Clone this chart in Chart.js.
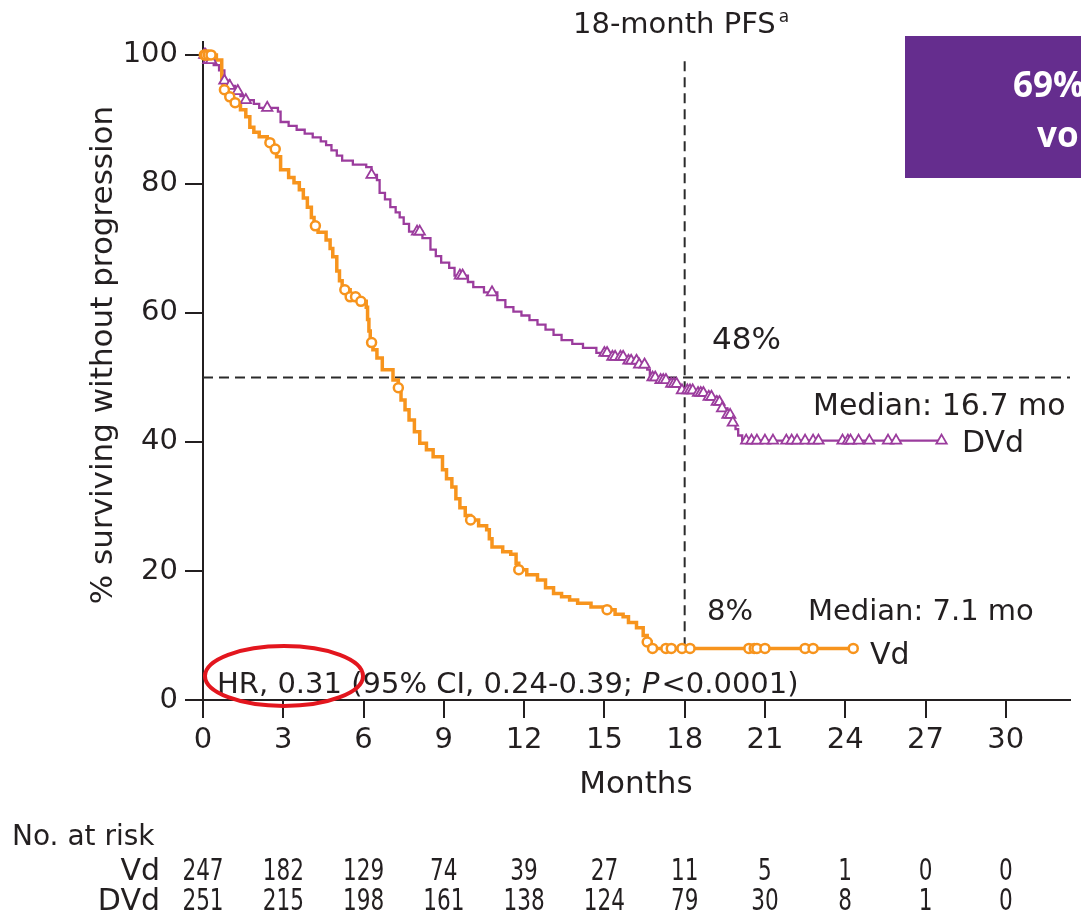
<!DOCTYPE html>
<html>
<head>
<meta charset="utf-8">
<title>PFS DVd vs Vd</title>
<script src="https://cdn.jsdelivr.net/npm/chart.js@4.4.0/dist/chart.umd.min.js"></script>
<style>
  html, body { margin: 0; padding: 0; background: #fff; }
  canvas { display: block; }
</style>
</head>
<body>
<canvas id="pfsChart" width="1081" height="916"></canvas>
<script>
// x axis ticks (months) and y axis ticks (%)
const months = [0, 3, 6, 9, 12, 15, 18, 21, 24, 27, 30];
const pctTicks = [0, 20, 40, 60, 80, 100];

// Kaplan-Meier steps: [month, % progression-free after the event]
const dvdSteps = [
  [0, 100], [0.2, 99.2], [0.4, 98.4], [0.6, 97.6], [0.8, 96.0], [1.0, 95.2], [1.2, 94.4],
  [1.4, 93.6], [1.6, 93.0], [1.9, 92.4], [2.1, 91.8], [2.8, 91.2], [2.9, 89.6], [3.2, 89.0],
  [3.5, 88.4], [3.8, 87.8], [4.1, 87.2], [4.4, 86.6], [4.6, 86.0], [4.8, 85.2], [5.0, 84.4],
  [5.2, 83.6], [5.6, 83.0], [6.1, 82.6], [6.3, 81.4], [6.5, 80.6], [6.6, 78.6], [6.8, 77.6],
  [7.0, 76.4], [7.2, 75.6], [7.35, 74.8], [7.5, 73.8], [7.7, 72.6], [8.2, 71.6], [8.5, 69.8],
  [8.7, 68.8], [8.9, 67.8], [9.2, 67.0], [9.4, 65.8], [9.9, 64.8], [10.1, 64.0], [10.5, 63.2],
  [11.0, 62.0], [11.3, 60.9], [11.6, 60.2], [11.9, 59.6], [12.2, 58.9], [12.5, 58.2],
  [12.8, 57.4], [13.1, 56.6], [13.4, 55.8], [13.8, 55.2], [14.2, 54.6], [14.7, 53.8],
  [15.2, 53.2], [15.8, 52.6], [16.3, 52.0], [16.6, 51.2], [16.7, 50.0], [17.0, 49.6],
  [17.4, 49.0], [17.8, 48.0], [18.5, 47.6], [18.9, 47.0], [19.2, 46.2], [19.4, 45.2],
  [19.6, 44.2], [19.8, 43.0], [19.9, 42.0], [20.0, 41.0], [20.15, 40.2], [27.6, 40.2]
];
const vdSteps = [
  [0, 100], [0.5, 99.2], [0.7, 96.4], [0.75, 94.6], [0.9, 93.5], [1.1, 92.6], [1.4, 91.5],
  [1.6, 90.4], [1.75, 88.8], [1.9, 88.0], [2.1, 87.3], [2.4, 86.4], [2.6, 85.4], [2.75, 84.2],
  [2.9, 82.2], [3.2, 81.0], [3.4, 80.2], [3.6, 79.1], [3.75, 77.8], [3.9, 76.4], [4.05, 74.8],
  [4.15, 73.5], [4.3, 72.5], [4.6, 71.3], [4.75, 70.0], [4.85, 68.7], [5.0, 66.5], [5.1, 65.0],
  [5.2, 63.6], [5.5, 62.5], [5.8, 61.8], [6.1, 60.9], [6.15, 59.0], [6.2, 57.2], [6.25, 55.4],
  [6.35, 54.3], [6.5, 53.0], [6.7, 51.2], [7.1, 49.6], [7.3, 48.4], [7.4, 46.5], [7.55, 45.0],
  [7.7, 43.4], [7.9, 41.6], [8.1, 39.8], [8.35, 38.8], [8.6, 37.7], [8.95, 35.7], [9.1, 34.3],
  [9.3, 33.0], [9.45, 31.2], [9.6, 29.8], [9.8, 28.6], [10.0, 27.9], [10.3, 27.0], [10.6, 26.4],
  [10.7, 25.0], [10.8, 23.7], [11.2, 23.0], [11.5, 22.6], [11.7, 21.2], [11.8, 20.2],
  [12.1, 19.4], [12.5, 18.6], [12.8, 17.4], [13.1, 16.5], [13.4, 16.0], [13.7, 15.5],
  [14.0, 15.0], [14.5, 14.4], [15.0, 14.0], [15.4, 13.3], [15.7, 12.9], [15.9, 12.0],
  [16.2, 11.2], [16.45, 10.0], [16.6, 9.0], [16.75, 8.0], [24.3, 8.0]
];

// censored observations (months)
const dvdCensored = [0.05, 0.1, 0.2, 0.3, 0.8, 1.0, 1.3, 1.6, 2.4, 6.3, 8.0, 8.1, 9.6, 9.7, 10.8,
  15.0, 15.1, 15.3, 15.4, 15.6, 15.7, 15.9, 16.0, 16.2, 16.3, 16.5, 16.8, 16.9, 17.1, 17.2, 17.3,
  17.5, 17.6, 17.7, 17.9, 18.1, 18.2, 18.3, 18.5, 18.6, 18.7, 18.9, 19.0, 19.2, 19.3, 19.4, 19.6,
  19.7, 19.8, 20.3, 20.5, 20.7, 21.0, 21.3, 21.8, 22.0, 22.2, 22.5, 22.8, 23.0, 23.9, 24.1, 24.2,
  24.5, 24.9, 25.6, 25.9, 27.6];
const vdCensored = [0.05, 0.1, 0.2, 0.3, 0.8, 1.0, 1.2, 2.5, 2.7, 4.2, 5.3, 5.5, 5.7, 5.9, 6.3,
  7.3, 10.0, 11.8, 15.1, 16.6, 16.8, 17.3, 17.5, 17.9, 18.2, 20.4, 20.6, 20.7, 21.0, 22.5, 22.8,
  24.3];

// number at risk at each x tick
const riskVd = [247, 182, 129, 74, 39, 27, 11, 5, 1, 0, 0];
const riskDVd = [251, 215, 198, 161, 138, 124, 79, 30, 8, 1, 0];

// reference lines
const medianPct = 50;
const landmarkMonth = 18;
const landmarkTop = 99;
const landmarkVd = 8;
const xMax = 32.4;

const ink = '#231f20';
const orange = '#f7941d';
const purple = '#9b3c9d';
const face = '"DejaVu Sans"';

function survAt(steps, t) {
  let s = steps[0][1];
  for (const [time, val] of steps) {
    if (time <= t) s = val; else break;
  }
  return s;
}
const toXY = steps => steps.map(([x, y]) => ({ x, y }));
const censorPoints = (times, steps) => times.map(t => ({ x: t, y: survAt(steps, t) }));

const overlay = {
  id: 'overlay',
  afterDraw(chart) {
    const ctx = chart.ctx;
    const xs = chart.scales.x;
    ctx.save();
    ctx.fillStyle = ink;
    ctx.textAlign = 'left';
    ctx.textBaseline = 'alphabetic';

    // landmark header
    ctx.font = `29px ${face}`;
    ctx.fillText('18-month PFS', 573, 33);
    const w = ctx.measureText('18-month PFS').width;
    ctx.font = `17px ${face}`;
    ctx.fillText('a', 573 + w + 3, 22);

    ctx.font = `31px ${face}`;
    ctx.fillText('48%', 712, 349);
    ctx.font = `30px ${face}`;
    ctx.fillText('Median: 16.7 mo', 813, 415);
    ctx.fillText('DVd', 962, 452);
    ctx.font = `29px ${face}`;
    ctx.fillText('8%', 707, 620);
    ctx.fillText('Median: 7.1 mo', 808, 620);
    ctx.font = `30px ${face}`;
    ctx.fillText('Vd', 870, 664);

    // hazard ratio line, P in italics
    let hx = 217;
    const hy = 693;
    ctx.font = `29px ${face}`;
    const part1 = 'HR, 0.31 (95% CI, 0.24-0.39; ';
    ctx.fillText(part1, hx, hy);
    hx += ctx.measureText(part1).width;
    ctx.font = `italic 29px ${face}`;
    ctx.fillText('P', hx, hy);
    hx += ctx.measureText('P').width + 2;
    ctx.font = `29px ${face}`;
    ctx.fillText('<0.0001)', hx, hy);

    // highlight around the HR
    ctx.beginPath();
    ctx.ellipse(284, 676, 79, 30, 0, 0, Math.PI * 2);
    ctx.strokeStyle = '#e3161e';
    ctx.lineWidth = 4;
    ctx.stroke();

    // axis titles
    ctx.font = `31px ${face}`;
    ctx.textAlign = 'center';
    ctx.fillText('Months', 636, 793);
    ctx.save();
    ctx.translate(112, 355);
    ctx.rotate(-Math.PI / 2);
    ctx.fillText('% surviving without progression', 0, 0);
    ctx.restore();

    // number at risk table
    ctx.textAlign = 'left';
    ctx.font = `28px ${face}`;
    ctx.fillText('No. at risk', 12, 845);
    ctx.textAlign = 'right';
    ctx.font = `30px ${face}`;
    ctx.fillText('Vd', 160, 880);
    ctx.fillText('DVd', 160, 910);
    const rows = [[riskVd, 880], [riskDVd, 910]];
    ctx.textAlign = 'center';
    for (const [vals, by] of rows) {
      vals.forEach((v, i) => {
        const px = xs.getPixelForValue(months[i]);
        ctx.save();
        ctx.translate(px, by);
        ctx.scale(0.72, 1);
        ctx.fillText(String(v), 0, 0);
        ctx.restore();
      });
    }

    // callout box
    ctx.fillStyle = '#652d8e';
    ctx.fillRect(905, 36, 200, 142);
    ctx.fillStyle = '#ffffff';
    ctx.textAlign = 'left';
    ctx.font = `bold 35px "Open Sans"`;
    ctx.fillText('69%', 1013, 97);
    ctx.fillText('vo', 1037, 147);
    ctx.restore();
  }
};

const axisLook = {
  grid: { drawOnChartArea: false, drawTicks: true, tickLength: 18, lineWidth: 2, tickWidth: 2, tickColor: ink },
  border: { color: ink, width: 2 }
};

new Chart(document.getElementById('pfsChart'), {
  type: 'line',
  data: {
    datasets: [
      {
        label: 'median',
        data: [{ x: 0, y: medianPct }, { x: xMax, y: medianPct }],
        borderColor: '#2b2b2b', borderWidth: 2, borderDash: [10, 6],
        pointRadius: 0, order: 10
      },
      {
        label: 'landmark',
        data: [{ x: landmarkMonth, y: landmarkTop }, { x: landmarkMonth, y: landmarkVd }],
        borderColor: '#2b2b2b', borderWidth: 2, borderDash: [10, 6],
        pointRadius: 0, order: 10
      },
      {
        label: 'DVd',
        data: toXY(dvdSteps),
        stepped: true,
        borderColor: purple, borderWidth: 2.3,
        pointRadius: 0, order: 5
      },
      {
        label: 'Vd',
        data: toXY(vdSteps),
        stepped: true,
        borderColor: orange, borderWidth: 3.5,
        pointRadius: 0, order: 4
      },
      {
        label: 'DVd censored',
        data: censorPoints(dvdCensored, dvdSteps),
        showLine: false,
        pointStyle: 'triangle', pointRadius: 6,
        pointBorderColor: purple, pointBackgroundColor: '#fff', pointBorderWidth: 1.8,
        order: 2
      },
      {
        label: 'Vd censored',
        data: censorPoints(vdCensored, vdSteps),
        showLine: false,
        pointStyle: 'circle', pointRadius: 4.5,
        pointBorderColor: orange, pointBackgroundColor: '#fff', pointBorderWidth: 2.5,
        order: 1
      }
    ]
  },
  options: {
    responsive: false,
    animation: false,
    clip: false,
    layout: { padding: { top: 42, right: 11, left: 0, bottom: 0 } },
    plugins: { legend: { display: false }, tooltip: { enabled: false } },
    scales: {
      x: {
        type: 'linear', min: 0, max: xMax,
        ...axisLook,
        afterBuildTicks: s => { s.ticks = months.map(v => ({ value: v })); },
        afterFit: s => { s.height = 216; },
        ticks: { color: ink, font: { family: 'DejaVu Sans', size: 29 }, padding: 5, maxRotation: 0, autoSkip: false }
      },
      y: {
        type: 'linear', min: 0, max: 102,
        ...axisLook,
        afterBuildTicks: s => { s.ticks = pctTicks.map(v => ({ value: v })); },
        afterFit: s => { s.width = 203; },
        ticks: { color: ink, font: { family: 'DejaVu Sans', size: 29 }, padding: 7 }
      }
    }
  },
  plugins: [overlay]
});
</script>
</body>
</html>
